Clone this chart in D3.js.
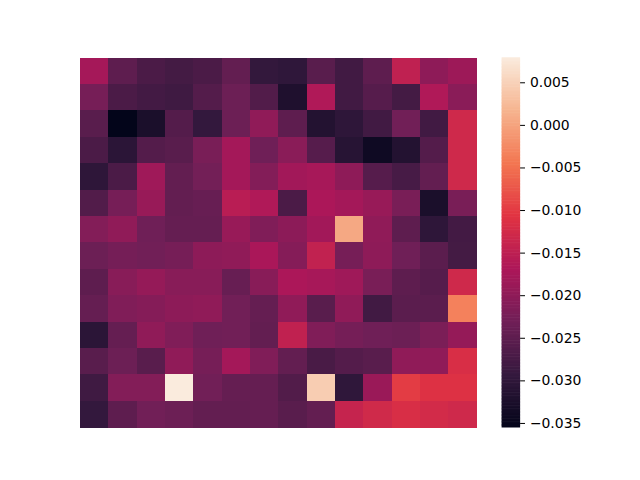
<!DOCTYPE html>
<html lang="en">
<head>
  <meta charset="UTF-8">
  <title>Heatmap</title>
  <script src="https://d3js.org/d3.v7.min.js"></script>
  <style>
    html, body {
      margin: 0;
      background: #ffffff;
    }
    svg {
      display: block;
    }
    .cbar-axis text {
      font-family: "DejaVu Sans", sans-serif;
      font-size: 13.9px;
      fill: #000;
    }
    .cbar-axis line {
      stroke: #000;
      stroke-width: 1;
    }
  </style>
</head>
<body>
  <div id="chart"></div>

  <script>
    // 14 x 14 matrix, row by row (top to bottom)
    const row0  = [-0.0177, -0.0250, -0.0270, -0.0277, -0.0270, -0.0245, -0.0296, -0.0300, -0.0255, -0.0280, -0.0250, -0.0147, -0.0200, -0.0185];
    const row1  = [-0.0225, -0.0270, -0.0278, -0.0283, -0.0260, -0.0235, -0.0263, -0.0320, -0.0165, -0.0280, -0.0258, -0.0277, -0.0165, -0.0205];
    const row2  = [-0.0255, -0.0355, -0.0325, -0.0260, -0.0295, -0.0235, -0.0198, -0.0250, -0.0315, -0.0302, -0.0280, -0.0230, -0.0280, -0.0130];
    const row3  = [-0.0270, -0.0305, -0.0260, -0.0255, -0.0222, -0.0178, -0.0232, -0.0205, -0.0258, -0.0310, -0.0340, -0.0315, -0.0260, -0.0130];
    const row4  = [-0.0302, -0.0270, -0.0183, -0.0245, -0.0228, -0.0178, -0.0212, -0.0180, -0.0175, -0.0200, -0.0258, -0.0274, -0.0245, -0.0130];
    const row5  = [-0.0263, -0.0225, -0.0190, -0.0245, -0.0240, -0.0155, -0.0165, -0.0270, -0.0170, -0.0178, -0.0190, -0.0222, -0.0325, -0.0222];
    const row6  = [-0.0212, -0.0198, -0.0232, -0.0243, -0.0243, -0.0190, -0.0215, -0.0203, -0.0180,  0.0005, -0.0198, -0.0250, -0.0302, -0.0278];
    const row7  = [-0.0235, -0.0226, -0.0230, -0.0225, -0.0202, -0.0198, -0.0172, -0.0210, -0.0145, -0.0225, -0.0201, -0.0232, -0.0253, -0.0277];
    const row8  = [-0.0250, -0.0207, -0.0193, -0.0207, -0.0207, -0.0240, -0.0207, -0.0170, -0.0175, -0.0183, -0.0222, -0.0250, -0.0258, -0.0130];
    const row9  = [-0.0243, -0.0215, -0.0210, -0.0202, -0.0198, -0.0230, -0.0243, -0.0198, -0.0255, -0.0198, -0.0280, -0.0253, -0.0253, -0.0034];
    const row10 = [-0.0305, -0.0243, -0.0198, -0.0215, -0.0232, -0.0230, -0.0245, -0.0146, -0.0215, -0.0226, -0.0232, -0.0235, -0.0220, -0.0193];
    const row11 = [-0.0255, -0.0235, -0.0255, -0.0198, -0.0225, -0.0178, -0.0215, -0.0245, -0.0272, -0.0260, -0.0255, -0.0198, -0.0198, -0.0118];
    const row12 = [-0.0283, -0.0212, -0.0212,  0.0079, -0.0230, -0.0243, -0.0243, -0.0263,  0.0045, -0.0300, -0.0188, -0.0099, -0.0112, -0.0112];
    const row13 = [-0.0295, -0.0250, -0.0230, -0.0235, -0.0245, -0.0245, -0.0243, -0.0255, -0.0245, -0.0140, -0.0128, -0.0118, -0.0125, -0.0130];

    const rows = [row0, row1, row2, row3, row4, row5, row6, row7, row8, row9, row10, row11, row12, row13];
    const colIds = d3.range(14);
    const rowIds = d3.range(14);
    const cbarTicks = [-0.035, -0.030, -0.025, -0.020, -0.015, -0.010, -0.005, 0.000, 0.005];

    // seaborn "rocket" colormap, sampled
    const rocketStops = ["#03051a", "#35193e", "#701f57", "#ad1759", "#e13342", "#f37651", "#f6b48f", "#faebdd"];

    const W = 640, H = 480;
    const plot = { left: 80, right: 476.8, top: 57.6, bottom: 427.2 };
    const cbar = { left: 501.6, width: 18.5 };

    const cells = [];
    rows.forEach((r, i) => r.forEach((v, j) => cells.push({ row: i, col: j, value: v })));

    const [vmin, vmax] = d3.extent(cells, d => d.value);

    const x = d3.scaleBand().domain(colIds).range([plot.left, plot.right]).padding(0);
    const y = d3.scaleBand().domain(rowIds).range([plot.top, plot.bottom]).padding(0);

    const color = d3.scaleLinear()
      .domain(rocketStops.map((_, i) => vmin + (vmax - vmin) * i / (rocketStops.length - 1)))
      .range(rocketStops)
      .interpolate(d3.interpolateRgb)
      .clamp(true);

    const svg = d3.select("#chart")
      .append("svg")
      .attr("width", W)
      .attr("height", H);

    // Cells
    svg.append("g")
      .selectAll("rect")
      .data(cells)
      .enter()
      .append("rect")
      .attr("x", d => x(d.col))
      .attr("y", d => y(d.row))
      .attr("width", x.bandwidth() + 0.4)
      .attr("height", y.bandwidth() + 0.4)
      .attr("fill", d => color(d.value))
      .attr("shape-rendering", "crispEdges");

    // Colorbar
    const cy = d3.scaleLinear().domain([vmin, vmax]).range([plot.bottom, plot.top]);
    const nSteps = 256;
    const stepVals = d3.range(nSteps).map(i => vmin + (vmax - vmin) * i / nSteps);
    const stepH = (plot.bottom - plot.top) / nSteps;

    svg.append("g")
      .selectAll("rect")
      .data(stepVals)
      .enter()
      .append("rect")
      .attr("x", cbar.left)
      .attr("y", d => cy(d) - stepH - 0.3)
      .attr("width", cbar.width)
      .attr("height", stepH + 0.6)
      .attr("fill", d => color(d + (vmax - vmin) / nSteps / 2));

    const cAxis = svg.append("g")
      .attr("class", "cbar-axis")
      .attr("transform", `translate(${cbar.left + cbar.width},0)`)
      .call(d3.axisRight(cy)
        .tickValues(cbarTicks)
        .tickFormat(d3.format(".3f"))
        .tickSize(4.9)
        .tickPadding(4.9));

    cAxis.select(".domain").remove();
  </script>
</body>
</html>
